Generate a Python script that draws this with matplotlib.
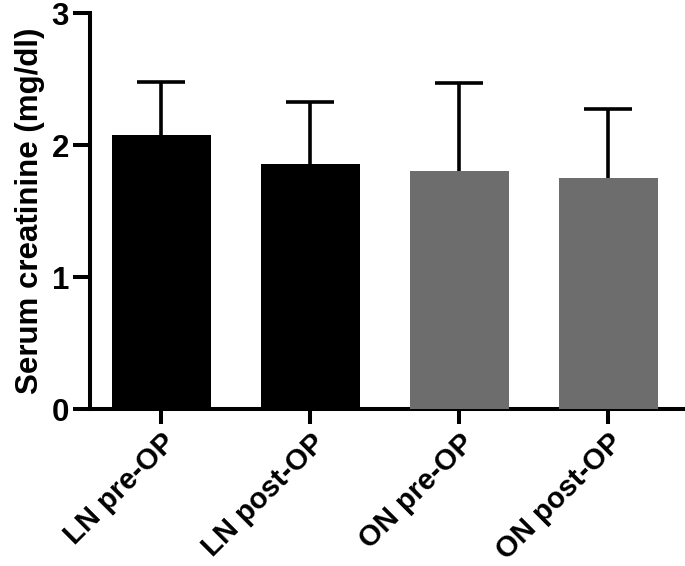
import numpy as np
import matplotlib.pyplot as plt

# ---- DATA ----
groups = ["LN pre-OP", "LN post-OP", "ON pre-OP", "ON post-OP"]
means = [2.08, 1.86, 1.80, 1.75]
upper = [2.48, 2.33, 2.47, 2.27]   # top of error bar
colors = ["#000000", "#000000", "#6d6d6d", "#6d6d6d"]

plt.rcParams['font.family'] = ['Liberation Sans', 'DejaVu Sans']
plt.rcParams['font.weight'] = 'bold'

fig = plt.figure(figsize=(6.85, 5.66), dpi=100)
ax = fig.add_axes([0.131, 0.277, 0.866, 0.700])

x = np.arange(len(groups))
ax.bar(x, means, width=0.665, color=colors, zorder=3)

err = np.array(upper) - np.array(means)
eb = ax.errorbar(x, means, yerr=[np.zeros(len(err)), err], fmt='none',
                 ecolor='black', elinewidth=2.6, capsize=17.5, capthick=2.6,
                 zorder=2)
eb[1][0].set_visible(False)  # no lower cap

ax.set_xlim(-0.48, 3.5)
ax.set_ylim(0, 3)
ax.set_yticks([0, 1, 2, 3])
ax.set_xticks(x)
ax.set_xticklabels(groups, rotation=45, ha='right', rotation_mode='anchor',
                   fontsize=21, fontweight='bold')
ax.tick_params(axis='y', labelsize=22.5, length=12, width=2.9, pad=3)
ax.tick_params(axis='x', length=11, width=2.9, pad=3)
ax.set_ylabel("Serum creatinine (mg/dl)", fontsize=22.5, fontweight='bold', labelpad=5)

for s in ['top', 'right']:
    ax.spines[s].set_visible(False)
for s in ['left', 'bottom']:
    ax.spines[s].set_linewidth(2.9)

fig.savefig("out.png", dpi=100)
